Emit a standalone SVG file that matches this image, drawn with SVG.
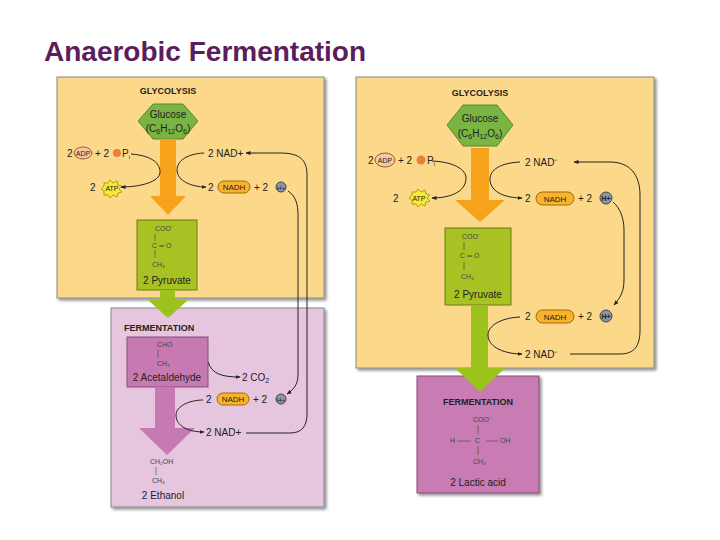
<svg xmlns="http://www.w3.org/2000/svg" width="720" height="540" viewBox="0 0 720 540">
<defs>
<marker id="ah" viewBox="0 0 10 10" refX="9" refY="5" markerWidth="5" markerHeight="5" orient="auto"><path d="M0,1 L10,5 L0,9 z" fill="#222"/></marker>
<filter id="sh" x="-5%" y="-5%" width="115%" height="115%"><feDropShadow dx="2" dy="2" stdDeviation="1.5" flood-color="#000" flood-opacity="0.45"/></filter>
</defs>
<style>
text{font-family:"Liberation Sans",Arial,sans-serif;fill:#222}
.t{font-size:10px}.s{font-size:7px;fill:#444}.h{font-size:9px;font-weight:bold}
.ln{fill:none;stroke:#222;stroke-width:1}
.yel{fill:#fcd98a;stroke:#888;stroke-width:1}
.pnk{fill:#e6c5de;stroke:#888;stroke-width:1}
.gl{fill:#7ab443;stroke:#5a8a2a}
.pv{fill:#a8c224;stroke:#6b7d10}
.or{fill:#f7a21b}
.gr{fill:#9cc21c}
.pk{fill:#c77ab2;stroke:#8a4a7a}
.nadh{fill:#f7b32e;stroke:#a36a00}
.adp{fill:#f6c79c;stroke:#a05a2a}
.hp{fill:#8d96a8;stroke:#444}
.atp{fill:#f7e83a;stroke:#b0a000}
</style>
<text x="44" y="61" style="font-size:28px;font-weight:bold;fill:#5b1d5b">Anaerobic Fermentation</text>

<!-- LEFT -->
<g id="left-glycolysis">
<rect x="57" y="77" width="267" height="221" class="yel" filter="url(#sh)"/>
<text x="168" y="94" class="h" text-anchor="middle">GLYCOLYSIS</text>
<polygon points="138,121 153,104 183,104 198,121 183,139 153,139" class="gl"/>
<text x="168" y="118" class="t" text-anchor="middle" fill="#333">Glucose</text>
<text x="168" y="132" class="t" text-anchor="middle">(C<tspan font-size="7" dy="2">6</tspan><tspan dy="-2">H</tspan><tspan font-size="7" dy="2">12</tspan><tspan dy="-2">O</tspan><tspan font-size="7" dy="2">6</tspan><tspan dy="-2">)</tspan></text>
<polygon points="160,139 176,139 176,196 186,196 168,215 150,196 160,196" class="or"/>
<text x="67" y="157" class="t">2</text><ellipse cx="83" cy="153" rx="9" ry="6" class="adp"/><text x="83" y="156" font-size="7" text-anchor="middle">ADP</text>
<text x="95" y="157" class="t">+ 2</text><circle cx="117" cy="153" r="4" fill="#e9813a"/><text x="122" y="157" class="t">P<tspan font-size="6" dy="2">i</tspan></text>
<text x="90" y="191" class="t">2</text><polygon points="110,180 113,183 117,181 118,185 122,186 119,189 122,192 118,193 117,197 113,195 110,198 108,195 104,195 104,191 101,189 104,186 104,183 108,183" class="atp"/><text x="112" y="191" font-size="7" text-anchor="middle">ATP</text>
<text x="208" y="157" class="t">2 NAD+</text>
<text x="208" y="191" class="t">2</text><rect x="218" y="181" width="32" height="12" rx="6" class="nadh"/><text x="234" y="190" font-size="8" text-anchor="middle">NADH</text>
<text x="254" y="191" class="t">+ 2</text><circle cx="281" cy="187" r="5" class="hp"/><text x="281" y="190" font-size="6" fill="#fff" text-anchor="middle">H+</text>
</g>
<g id="left-pyruvate">
<rect x="137" y="220" width="60" height="70" class="pv"/>
<text x="155" y="231" class="s">COO⁻</text><path d="M155,234 V241 M155,250 V258" stroke="#444" stroke-width="0.6"/>
<text x="152" y="248" class="s">C ═ O</text><text x="152" y="267" class="s">CH₃</text>
<text x="167" y="284" class="t" text-anchor="middle">2 Pyruvate</text>
</g>
<g id="left-fermentation">
<rect x="111" y="308" width="213" height="199" class="pnk" filter="url(#sh)"/>
<polygon points="160,290 175,290 175,300 188,300 168,318 148,300 160,300" class="gr"/>
<text x="124" y="331" class="h">FERMENTATION</text>
<rect x="127" y="337" width="81" height="50" class="pk"/>
<text x="157" y="347" class="s">CHO</text><path d="M158,350 V358" stroke="#444" stroke-width="0.6"/><text x="157" y="366" class="s">CH₃</text>
<text x="167" y="381" class="t" text-anchor="middle">2 Acetaldehyde</text>
<polygon points="155,387 175,387 175,428 195,428 167,455 139,428 155,428" fill="#c77ab2"/>
<text x="242" y="381" class="t">2 CO<tspan font-size="7" dy="2">2</tspan></text>
<text x="206" y="403" class="t">2</text><rect x="217" y="393" width="32" height="12" rx="6" class="nadh"/><text x="233" y="402" font-size="8" text-anchor="middle">NADH</text>
<text x="253" y="403" class="t">+ 2</text><circle cx="281" cy="399" r="5" class="hp"/><text x="281" y="402" font-size="6" fill="#fff" text-anchor="middle">H+</text>
<text x="206" y="436" class="t">2 NAD+</text>
<text x="150" y="464" class="s">CH₂OH</text><path d="M156,467 V475" stroke="#444" stroke-width="0.6"/><text x="152" y="483" class="s">CH₃</text>
<text x="163" y="499" class="t" text-anchor="middle">2 Ethanol</text>
</g>

<!-- RIGHT -->
<g id="right-glycolysis">
<rect x="356" y="77" width="298" height="291" class="yel" filter="url(#sh)"/>
<text x="480" y="96" class="h" text-anchor="middle">GLYCOLYSIS</text>
<polygon points="447,125 463,105 497,105 513,125 497,146 463,146" class="gl"/>
<text x="480" y="122" class="t" text-anchor="middle">Glucose</text>
<text x="480" y="137" class="t" text-anchor="middle">(C<tspan font-size="7" dy="2">6</tspan><tspan dy="-2">H</tspan><tspan font-size="7" dy="2">12</tspan><tspan dy="-2">O</tspan><tspan font-size="7" dy="2">6</tspan><tspan dy="-2">)</tspan></text>
<polygon points="471,148 489,148 489,200 505,200 480,222 455,200 471,200" class="or"/>
<text x="368" y="164" class="t">2</text><ellipse cx="385" cy="160" rx="10" ry="7" class="adp"/><text x="385" y="163" font-size="7" text-anchor="middle">ADP</text>
<text x="398" y="164" class="t">+ 2</text><circle cx="421" cy="160" r="4.5" fill="#e9813a"/><text x="427" y="164" class="t">P<tspan font-size="6" dy="2">i</tspan></text>
<text x="393" y="202" class="t">2</text><polygon points="418,189 421,192 425,190 426,194 430,195 427,198 430,201 426,202 425,206 421,204 418,207 416,204 412,204 412,200 409,198 412,195 412,192 416,192" class="atp"/><text x="419" y="201" font-size="7" text-anchor="middle">ATP</text>
<text x="525" y="166" class="t">2 NAD⁻</text>
<text x="525" y="202" class="t">2</text><rect x="536" y="192" width="38" height="13" rx="6.5" class="nadh"/><text x="555" y="202" font-size="8" text-anchor="middle">NADH</text>
<text x="578" y="202" class="t">+ 2</text><circle cx="606" cy="198" r="6" class="hp"/><text x="606" y="201" font-size="7" fill="#fff" text-anchor="middle" font-weight="bold">H+</text>
<rect x="445" y="228" width="66" height="77" class="pv"/>
<text x="462" y="239" class="s">COO⁻</text><path d="M464,242 V250 M464,262 V270" stroke="#444" stroke-width="0.6"/>
<text x="460" y="258" class="s">C ═ O</text><text x="461" y="279" class="s">CH₃</text>
<text x="478" y="298" class="t" text-anchor="middle">2 Pyruvate</text>
<text x="525" y="320" class="t">2</text><rect x="536" y="310" width="38" height="13" rx="6.5" class="nadh"/><text x="555" y="320" font-size="8" text-anchor="middle">NADH</text>
<text x="578" y="320" class="t">+ 2</text><circle cx="606" cy="316" r="6" class="hp"/><text x="606" y="319" font-size="7" fill="#fff" text-anchor="middle" font-weight="bold">H+</text>
<text x="525" y="358" class="t">2 NAD⁻</text>
</g>
<g id="right-fermentation">
<rect x="417" y="376" width="122" height="117" class="pk" style="fill:#c87bb3" filter="url(#sh)"/>
<polygon points="471,305 488,305 488,368 505,368 480,392 455,368 471,368" class="gr"/>
<text x="478" y="405" class="h" text-anchor="middle">FERMENTATION</text>
<text x="473" y="422" class="s">COO⁻</text><path d="M478,425 V434 M478,446 V455" stroke="#444" stroke-width="0.6"/>
<text x="450" y="443" class="s">H</text><path d="M457,441 H471 M486,441 H498" stroke="#444" stroke-width="0.6"/><text x="475" y="443" class="s">C</text><text x="500" y="443" class="s">OH</text>
<text x="473" y="464" class="s">CH₃</text>
<text x="478" y="486" class="t" text-anchor="middle">2 Lactic acid</text>
</g>

<g id="connectors" class="ln">
<path d="M131,154 C155,156 160,165 160,172 C160,182 140,187 121,187" marker-end="url(#ah)"/>
<path d="M204,153 C185,154 177,162 177,170 C177,181 192,187 206,187" marker-end="url(#ah)"/>
<path d="M288,191 C296,196 298,205 298,215 V375 C298,385 293,390 287,394" marker-end="url(#ah)"/>
<path d="M246,433 H290 C302,433 307,426 307,414 V175 C307,160 300,153 280,153 H246" marker-end="url(#ah)"/>
<path d="M208,362 C212,374 222,377 240,377" marker-end="url(#ah)"/>
<path d="M203,400 C190,400 176,406 176,415 C176,426 188,432 204,432" marker-end="url(#ah)"/>
<path d="M432,161 C455,162 466,170 466,178 C466,192 450,198 432,198" marker-end="url(#ah)"/>
<path d="M520,162 C500,163 490,170 490,179 C490,193 507,198 522,198" marker-end="url(#ah)"/>
<path d="M613,202 C620,208 624,218 624,230 V280 C624,292 620,298 614,305" marker-end="url(#ah)"/>
<path d="M520,317 C500,318 488,326 488,335 C488,348 506,354 522,354" marker-end="url(#ah)"/>
<path d="M570,354 H620 C635,354 640,345 640,330 V195 C640,175 630,162 610,162 H574" marker-end="url(#ah)"/>
</g>
</svg>
